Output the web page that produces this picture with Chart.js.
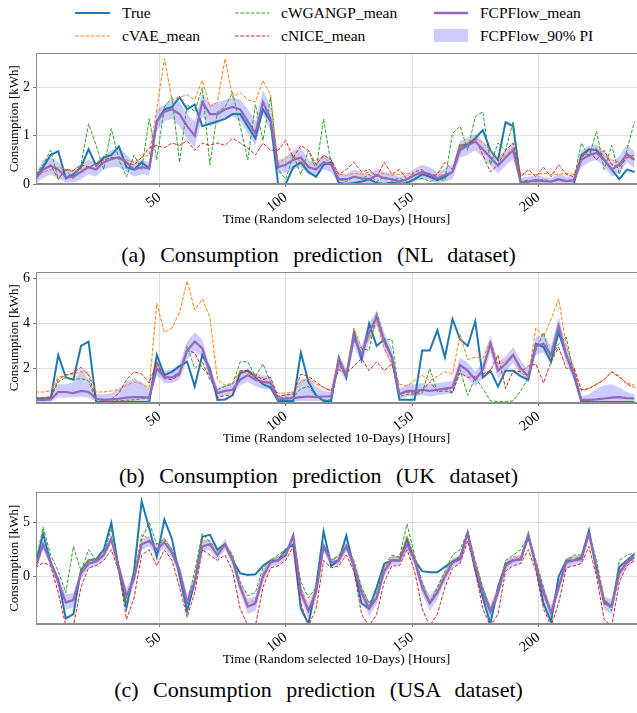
<!DOCTYPE html>
<html>
<head>
<meta charset="utf-8">
<script src="https://cdn.jsdelivr.net/npm/chart.js@4.4.1/dist/chart.umd.min.js"></script>
<style>
  body { margin: 0; width: 637px; height: 713px; overflow: hidden; background: #fff; position: relative;
         font-family: "Liberation Serif", "Times New Roman", serif; color: #000; }
  .panel { position: absolute; left: 0; }
  .cap { position: absolute; left: 0; width: 637px; text-align: center; font-size: 22px; line-height: 22px; word-spacing: 9px; }
  .leg { position: absolute; height: 18px; display: flex; align-items: center; font-size: 15.5px; white-space: nowrap; }
  .leg svg { flex: none; margin-right: 12px; }
</style>
</head>
<body>

<!-- legend (3 columns x 2 rows) -->
<div class="leg" style="left:75px;top:4px"><svg width="35" height="18"><line x1="0" y1="9" x2="35" y2="9" stroke="#1f77b4" stroke-width="2"/></svg><span>True</span></div>
<div class="leg" style="left:75px;top:27px"><svg width="35" height="18"><line x1="0" y1="9" x2="35" y2="9" stroke="#ff7f0e" stroke-width="1" stroke-dasharray="3.7 1.6"/></svg><span>cVAE_mean</span></div>
<div class="leg" style="left:235px;top:4px"><svg width="34" height="18"><line x1="0" y1="9" x2="34" y2="9" stroke="#2ca02c" stroke-width="1" stroke-dasharray="3.7 1.6"/></svg><span>cWGANGP_mean</span></div>
<div class="leg" style="left:235px;top:27px"><svg width="34" height="18"><line x1="0" y1="9" x2="34" y2="9" stroke="#d62728" stroke-width="1" stroke-dasharray="3.7 1.6"/></svg><span>cNICE_mean</span></div>
<div class="leg" style="left:434px;top:4px"><svg width="34" height="18"><line x1="0" y1="9" x2="34" y2="9" stroke="#9467bd" stroke-width="2.5"/></svg><span>FCPFlow_mean</span></div>
<div class="leg" style="left:434px;top:27px"><svg width="34" height="18"><rect x="0" y="2" width="34" height="13" fill="rgba(0,0,255,0.2)"/></svg><span>FCPFlow_90% PI</span></div>

<div class="panel" style="top:42px"><canvas id="nlChart" width="637" height="190"></canvas></div>
<div class="cap" style="top:244px">(a) Consumption prediction (NL dataset)</div>

<div class="panel" style="top:261px"><canvas id="ukChart" width="637" height="190"></canvas></div>
<div class="cap" style="top:465px">(b) Consumption prediction (UK dataset)</div>

<div class="panel" style="top:481px"><canvas id="usChart" width="637" height="191"></canvas></div>
<div class="cap" style="top:679px">(c) Consumption prediction (USA dataset)</div>

<script>
// === hours (one sample every 3 h) ===
const hours = [
  1, 4, 7, 10, 13, 16, 19, 22, 25, 28,
  31, 34, 37, 40, 43, 46, 49, 52, 55, 58,
  61, 64, 67, 70, 73, 76, 79, 82, 85, 88,
  91, 94, 97, 100, 103, 106, 109, 112, 115, 118,
  121, 124, 127, 130, 133, 136, 139, 142, 145, 148,
  151, 154, 157, 160, 163, 166, 169, 172, 175, 178,
  181, 184, 187, 190, 193, 196, 199, 202, 205, 208,
  211, 214, 217, 220, 223, 226, 229, 232, 235, 238
];
const xTicks = [50, 100, 150, 200];

// === (a) NL dataset ===
const nlTrue = [
  0.12, 0.35, 0.6, 0.68, 0.12, 0.2, 0.35, 0.72, 0.38, 0.55,
  0.6, 0.78, 0.35, 0.3, 0.45, 0.32, 1.3, 1.55, 1.6, 1.8,
  1.55, 1.65, 1.2, 1.25, 1.3, 1.35, 1.45, 1.45, 1.2, 0.95,
  1.55, 1.3, 0, 0, 0.35, 0.45, 0.25, 0.15, 0.4, 0.45,
  0.02, 0, 0.02, 0.05, 0.1, 0.02, 0, 0.03, 0, 0.02,
  0.1, 0.2, 0.15, 0.08, 0.15, 0.25, 0.8, 0.82, 0.95, 1.12,
  0.7, 0.5, 1.28, 1.2, 0.02, 0, 0, 0, 0, 0,
  0, 0, 0.6, 0.72, 0.7, 0.5, 0.3, 0.1, 0.3, 0.25
];
const nlVae = [
  0.15, 0.25, 0.3, 0.35, 0.3, 0.25, 0.3, 0.35, 0.4, 0.45,
  0.5, 0.55, 0.5, 0.45, 0.55, 0.6, 1.55, 2.6, 1.75, 1.8,
  1.85, 1.75, 2.15, 1.6, 1.7, 2.6, 1.8, 1.9, 1.75, 1.7,
  2.15, 1.85, 0.4, 0.55, 0.6, 0.45, 0.38, 0.5, 0.55, 0.42,
  0.2, 0.18, 0.22, 0.2, 0.25, 0.2, 0.22, 0.18, 0.2, 0.22,
  0.2, 0.22, 0.2, 0.18, 0.2, 0.25, 0.8, 0.85, 0.95, 0.85,
  0.7, 0.52, 0.6, 0.75, 0.22, 0.2, 0.2, 0.22, 0.2, 0.2,
  0.22, 0.2, 0.55, 0.65, 0.75, 0.58, 0.5, 0.45, 0.55, 0.5
];
const nlWgan = [
  0.2, 0.4, 0.7, 0.1, 0.3, 0.1, 0.4, 1.25, 0.8, 0.3,
  1.15, 0.5, 0.15, 0.6, 0.3, 1.35, 0.5, 1.6, 1.8, 0.45,
  1.65, 1.5, 2.0, 0.4, 1.5, 1.6, 1.9, 1.2, 0.5, 1.65,
  0.9, 1.8, 0.3, 0.1, 0.6, 0.2, 0.7, 0.3, 1.35, 0.4,
  0.1, 0.05, 0.15, 0.1, 0.2, 0.05, 0.15, 0.08, 0.12, 0.05,
  0.1, 0.12, 0.05, 0.1, 0.08, 1.05, 1.2, 0.7, 1.4, 1.5,
  0.4, 0.85, 0.7, 1.3, 0.05, 0.08, 0.05, 0.1, 0.05, 0.08,
  0.05, 0.08, 0.85, 0.55, 1.1, 0.3, 0.8, 0.2, 0.7, 1.3
];
const nlNice = [
  0.2, 0.3, 0.4, 0.1, 0.3, 0.28, 0.4, 0.35, 0.42, 0.5,
  0.55, 0.55, 0.45, 0.4, 0.55, 0.75, 0.8, 0.75, 0.85, 0.8,
  0.9, 0.7, 0.85, 0.8, 0.85, 0.8, 0.95, 0.85, 0.75, 0.6,
  0.85, 0.7, 0.7, 0.9, 0.55, 0.8, 0.7, 0.4, 0.6, 0.5,
  0.2, 0.3, 0.45, 0.25, 0.3, 0.15, 0.45, 0.2, 0.3, 0.1,
  0.25, 0.3, 0.15, 0.2, 0.45, 0.3, 0.75, 0.8, 0.95, 0.6,
  0.25, 0.4, 0.7, 0.85, 0.15, 0.3, 0.15, 0.35, 0.15, 0.4,
  0.2, 0.15, 0.55, 0.7, 0.5, 0.7, 0.4, 0.35, 0.55, 0.6
];
const nlFlow = [
  0.1, 0.3, 0.38, 0.3, 0.15, 0.15, 0.25, 0.35, 0.3, 0.45,
  0.52, 0.55, 0.45, 0.3, 0.35, 0.32, 1.3, 1.5, 1.55, 1.45,
  1.2, 1.0, 1.7, 1.45, 1.45, 1.55, 1.6, 1.55, 1.3, 1.05,
  1.7, 1.35, 0.35, 0.4, 0.5, 0.55, 0.35, 0.3, 0.45, 0.4,
  0.1, 0.1, 0.15, 0.12, 0.1, 0.18, 0.12, 0.1, 0.05, 0.1,
  0.18, 0.25, 0.2, 0.12, 0.18, 0.25, 0.7, 0.8, 0.88, 0.72,
  0.55, 0.38, 0.55, 0.7, 0.03, 0.05, 0.08, 0.06, 0.05, 0.1,
  0.06, 0.08, 0.5, 0.6, 0.65, 0.5, 0.3, 0.4, 0.62, 0.5
];
const nlLow = [
  0.02, 0.12, 0.2, 0.12, 0.03, 0.03, 0.1, 0.2, 0.15, 0.3,
  0.35, 0.35, 0.25, 0.15, 0.2, 0.18, 1.1, 1.3, 1.35, 1.2,
  0.95, 0.75, 1.4, 1.2, 1.25, 1.35, 1.4, 1.3, 1.05, 0.8,
  1.45, 1.1, 0.2, 0.25, 0.3, 0.35, 0.2, 0.15, 0.3, 0.25,
  0, 0, 0.02, 0, 0, 0.05, 0, 0, 0, 0,
  0.05, 0.1, 0.08, 0.02, 0.05, 0.1, 0.55, 0.6, 0.7, 0.55,
  0.38, 0.22, 0.38, 0.52, 0, 0, 0, 0, 0, 0,
  0, 0, 0.35, 0.45, 0.5, 0.35, 0.15, 0.22, 0.45, 0.32
];
const nlHigh = [
  0.2, 0.5, 0.55, 0.45, 0.3, 0.3, 0.4, 0.5, 0.45, 0.6,
  0.7, 0.75, 0.6, 0.45, 0.5, 0.45, 1.55, 1.65, 1.75, 1.7,
  1.45, 1.3, 1.9, 1.65, 1.7, 1.75, 1.8, 1.75, 1.55, 1.3,
  1.95, 1.6, 0.5, 0.55, 0.7, 0.75, 0.5, 0.45, 0.6, 0.55,
  0.22, 0.2, 0.3, 0.25, 0.22, 0.3, 0.25, 0.2, 0.15, 0.2,
  0.32, 0.4, 0.35, 0.25, 0.32, 0.4, 0.9, 0.95, 1.05, 0.9,
  0.7, 0.55, 0.72, 0.88, 0.12, 0.15, 0.18, 0.15, 0.12, 0.22,
  0.15, 0.16, 0.7, 0.8, 0.82, 0.68, 0.45, 0.58, 0.82, 0.68
];

// === (b) UK dataset ===
const ukTrue = [
  0.65, 0.65, 0.65, 2.6, 1.6, 1.5, 3.0, 3.2, 0.52, 0.5,
  0.5, 0.5, 0.5, 0.5, 0.5, 0.5, 2.6, 1.7, 1.85, 2.1,
  2.3, 1.2, 2.6, 2.0, 0.6, 0.62, 0.8, 1.8, 1.9, 1.6,
  1.3, 1.15, 0.55, 0.55, 0.55, 2.7, 1.4, 0.8, 0.55, 0.55,
  2.5, 1.6, 3.6, 2.4, 4.0, 3.0, 3.3, 2.5, 0.6, 0.6,
  0.6, 2.8, 2.8, 3.7, 2.5, 4.2, 3.3, 3.0, 4.1, 1.6,
  1.9, 1.2, 1.9, 1.9, 1.65, 1.5, 3.1, 2.95, 2.3, 3.6,
  2.6, 1.7, 0.5, 0.5, 0.5, 0.5, 0.5, 0.5, 0.5, 0.5
];
const ukVae = [
  0.95, 0.95, 1.0, 1.6, 1.7, 1.75, 1.85, 1.8, 0.95, 0.95,
  1.0, 1.05, 1.25, 1.4, 1.3, 1.15, 4.9, 3.6, 3.8, 4.5,
  5.9, 4.6, 5.1, 4.3, 1.5, 1.25, 1.35, 1.9, 1.8, 1.6,
  1.6, 1.25, 0.9, 0.9, 0.95, 1.4, 1.55, 1.3, 1.15, 1.0,
  2.5, 1.8, 3.8, 2.9, 3.3, 4.1, 2.9, 2.2, 1.3, 1.22,
  1.45, 1.7, 1.45, 1.65, 1.85, 1.75, 3.5, 2.4, 2.5, 2.45,
  3.25, 2.2, 2.3, 2.65, 1.8, 1.65, 3.8, 3.4, 4.2, 5.1,
  3.0, 2.0, 1.0, 1.1, 1.3, 1.5, 1.85, 1.6, 1.35, 1.25
];
const ukWgan = [
  0.65, 0.65, 0.68, 1.4, 1.6, 1.5, 1.55, 1.45, 0.55, 0.55,
  0.55, 0.56, 0.58, 0.6, 0.65, 0.68, 2.2, 1.6, 1.6, 1.7,
  3.0, 2.0, 2.3, 1.5, 1.05, 1.2, 1.3, 2.3, 2.3, 1.65,
  2.2, 1.4, 0.7, 0.7, 0.72, 1.1, 1.2, 0.75, 0.6, 0.6,
  2.2, 1.6, 3.2, 2.9, 2.8, 4.5, 3.3, 3.3, 0.75, 0.85,
  0.85, 0.9, 2.0, 0.95, 1.0, 0.9, 1.95, 0.8, 1.6, 1.1,
  0.55, 0.53, 0.53, 0.55, 1.0, 1.6, 2.8, 3.6, 2.4, 3.1,
  3.4, 1.7, 0.53, 0.52, 0.52, 0.53, 0.52, 0.52, 0.53, 0.52
];
const ukNice = [
  0.68, 0.7, 0.72, 1.5, 1.7, 1.8, 2.05, 1.7, 0.65, 0.62,
  0.62, 0.9, 1.5, 1.85, 1.75, 1.35, 2.3, 1.55, 1.5, 1.7,
  2.8, 2.7, 2.0, 1.7, 0.7, 0.8, 0.8, 1.9, 1.9, 1.7,
  1.5, 1.6, 0.75, 0.82, 0.85, 1.75, 1.65, 1.4, 1.15, 1.0,
  1.95, 1.8, 2.1, 2.45, 1.9, 2.3, 1.9, 2.2, 0.85, 0.95,
  0.9, 1.0, 1.4, 1.0, 1.1, 0.95, 1.8, 1.6, 1.65, 1.75,
  1.9, 2.6, 1.1, 1.9, 1.85, 2.1, 2.2, 1.35, 2.3, 2.95,
  2.0, 2.05, 1.05, 1.1, 1.3, 1.5, 1.85, 1.65, 1.3, 1.15
];
const ukFlow = [
  0.6, 0.6, 0.62, 0.95, 0.95, 0.9, 1.0, 0.95, 0.65, 0.6,
  0.62, 0.65, 0.7, 0.72, 0.72, 0.7, 2.0, 1.6, 1.6, 1.8,
  2.8, 3.2, 2.9, 1.8, 0.9, 1.0, 1.05, 1.5, 1.7, 1.5,
  1.4, 1.35, 0.62, 0.65, 0.68, 0.72, 0.75, 0.72, 0.75, 0.75,
  2.3, 1.7, 3.4, 2.6, 3.6, 4.3, 3.2, 2.5, 0.85, 1.0,
  1.0, 1.05, 1.0, 1.05, 1.1, 1.15, 2.15, 1.9, 1.5, 1.95,
  3.1, 1.9, 2.2, 2.6, 2.0, 1.65, 3.0, 3.1, 2.6, 3.9,
  2.6, 1.8, 0.6, 0.6, 0.62, 0.66, 0.7, 0.72, 0.68, 0.66
];
const ukLow = [
  0.5, 0.5, 0.52, 0.7, 0.7, 0.7, 0.75, 0.72, 0.5, 0.5,
  0.5, 0.5, 0.52, 0.55, 0.55, 0.52, 1.7, 1.35, 1.35, 1.5,
  2.4, 2.8, 2.5, 1.5, 0.7, 0.8, 0.85, 1.25, 1.4, 1.2,
  1.1, 1.05, 0.5, 0.5, 0.52, 0.55, 0.55, 0.55, 0.55, 0.55,
  2.0, 1.4, 3.0, 2.2, 3.2, 3.9, 2.8, 2.1, 0.65, 0.75,
  0.75, 0.8, 0.75, 0.8, 0.85, 0.9, 1.8, 1.55, 1.2, 1.6,
  2.7, 1.55, 1.85, 2.25, 1.7, 1.35, 2.6, 2.7, 2.2, 3.5,
  2.2, 1.5, 0.5, 0.5, 0.5, 0.52, 0.55, 0.55, 0.52, 0.5
];
const ukHigh = [
  0.75, 0.75, 0.78, 1.3, 1.3, 1.4, 2.0, 1.5, 0.85, 0.85,
  0.9, 1.1, 1.4, 1.55, 1.4, 1.1, 2.4, 1.9, 1.95, 2.2,
  3.2, 3.6, 3.3, 2.1, 1.15, 1.25, 1.35, 1.85, 2.0, 1.8,
  1.7, 1.65, 0.8, 0.85, 1.0, 1.5, 1.6, 1.2, 1.0, 0.95,
  2.6, 2.0, 3.8, 3.0, 4.0, 4.6, 3.6, 2.9, 1.1, 1.3,
  1.3, 1.35, 1.3, 1.35, 1.4, 1.45, 2.5, 2.25, 1.85, 2.3,
  3.5, 2.25, 2.55, 2.95, 2.35, 1.95, 3.4, 3.5, 3.0, 4.3,
  3.0, 2.1, 0.75, 0.85, 1.1, 1.25, 1.3, 1.15, 0.95, 0.85
];

// === (c) USA dataset ===
const usTrue = [
  1.0, 4.0, 1.3, -0.3, -3.9, -3.5, 0.6, 1.5, 1.6, 2.5,
  5.0, 0.6, -2.9, 0.5, 7.0, 4.5, 1.8, 5.3, 3.5, 0.0,
  -3.2, -0.5, 3.7, 3.9, 2.5, 3.0, 1.5, 0.3, 0.15, 0.2,
  1.0, 1.5, 1.5, 2.5, 3.0, -3.0, -4.4, -1.0, 4.2, 1.0,
  1.5, 3.8, 0.8, -2.5, -3.0, -1.0, 1.2, 1.5, 1.5, 3.5,
  1.5, 0.5, 0.4, 0.4, 0.9, 1.4, 1.8, 4.1, 0.6, -2.0,
  -4.4, -1.0, 1.2, 1.5, 1.6, 3.7, 1.0, -2.5, -4.2, 0.0,
  1.5, 1.5, 1.8, 4.3, 0.6, -2.3, -2.8, 0.9, 1.5, 2.1
];
const usVae = [
  1.0, 2.8, 1.5, -0.5, -2.5, -2.0, 0.5, 1.5, 1.6, 2.2,
  3.5, 1.0, -1.8, 0.0, 3.9, 3.5, 2.5, 3.5, 2.5, 0.5,
  -2.5, -0.3, 3.5, 3.0, 2.3, 3.0, 1.8, -0.8, -2.5, -2.2,
  0.3, 1.5, 1.8, 2.2, 3.8, -1.0, -3.0, -1.2, 3.0, 1.5,
  1.8, 3.0, 1.2, -1.2, -2.8, -1.8, 0.8, 1.8, 1.8, 3.8,
  1.8, -0.8, -2.3, -1.2, 0.3, 1.5, 1.8, 3.8, 1.2, -1.2,
  -3.0, -1.2, 1.2, 1.8, 1.8, 4.0, 1.2, -1.2, -3.2, -0.8,
  1.5, 1.8, 1.8, 4.0, 1.0, -2.2, -2.6, 0.5, 1.5, 2.0
];
const usWgan = [
  1.2, 4.6, 2.0, 0.5, -1.5, 2.8, 0.5, 2.5, 1.5, 2.0,
  4.5, 1.0, -2.5, 0.0, 3.5, 5.0, 3.0, 3.5, 2.5, 0.8,
  -2.5, 0.5, 4.0, 3.2, 2.5, 3.0, 2.0, -0.5, -1.8, -1.5,
  0.8, 1.5, 2.0, 2.5, 3.5, -0.5, -2.0, -1.0, 3.0, 1.5,
  2.0, 2.8, 1.5, -1.0, -2.5, -1.5, 1.0, 2.0, 1.8, 4.9,
  2.0, -0.5, -2.5, -1.0, 0.5, 2.0, 2.5, 4.2, 1.5, -1.0,
  -3.0, -1.5, 1.5, 2.0, 2.5, 3.8, 1.5, -1.0, -3.5, -1.0,
  1.5, 2.0, 2.0, 4.0, 1.5, -2.0, -3.2, 1.5, 2.0, 2.2
];
const usNice = [
  0.8, 1.3, 1.0, -1.5, -4.6, -4.6, -1.0, 0.8, 1.0, 1.5,
  2.5, 0.5, -4.0, -2.0, 2.0, 2.5, 1.0, 2.5, 1.5, -1.0,
  -3.8, -1.5, 2.5, 2.0, 1.5, 2.0, 0.5, -3.0, -4.6, -4.6,
  -1.0, 0.8, 1.0, 1.5, 2.8, -2.5, -4.6, -3.0, 1.5, 0.8,
  1.0, 2.0, 0.5, -3.5, -4.6, -3.5, -0.5, 1.0, 1.0, 2.5,
  0.5, -3.0, -4.6, -3.5, -1.0, 0.8, 1.2, 3.3, 0.5, -3.0,
  -4.6, -3.5, 0.5, 1.0, 1.2, 2.5, 0.5, -3.0, -4.6, -2.5,
  0.8, 1.0, 1.2, 2.8, 0.0, -4.0, -4.6, -0.5, 1.0, 1.5
];
const usFlow = [
  0.8, 3.0, 1.3, -0.5, -2.4, -2.2, 0.3, 1.2, 1.4, 2.0,
  3.5, 0.8, -1.8, -0.2, 3.0, 3.3, 2.5, 3.2, 2.2, 0.5,
  -2.4, -0.5, 2.8, 3.0, 2.0, 3.0, 1.5, -1.0, -2.8, -2.5,
  0.0, 1.3, 1.5, 2.0, 3.8, -1.5, -3.2, -1.5, 2.8, 1.3,
  1.5, 2.8, 1.0, -1.5, -3.0, -2.0, 0.5, 1.5, 1.5, 3.0,
  1.5, -1.0, -2.5, -1.5, 0.0, 1.3, 1.6, 4.0, 1.0, -1.5,
  -3.3, -1.5, 1.0, 1.5, 1.6, 3.9, 1.0, -1.5, -3.4, -1.0,
  1.3, 1.5, 1.6, 4.0, 0.8, -2.5, -2.8, 0.3, 1.3, 1.8
];
const usLow = [
  0.4, 2.5, 0.9, -1.0, -3.1, -2.9, -0.2, 0.8, 1.0, 1.6,
  3.0, 0.3, -2.5, -0.8, 2.5, 2.8, 2.0, 2.7, 1.7, 0.0,
  -3.1, -1.1, 2.3, 2.5, 1.5, 2.5, 1.0, -1.6, -3.5, -3.2,
  -0.6, 0.9, 1.1, 1.6, 3.3, -2.1, -3.9, -2.1, 2.3, 0.9,
  1.1, 2.3, 0.5, -2.1, -3.7, -2.6, 0.0, 1.1, 1.1, 2.5,
  1.0, -1.6, -3.2, -2.1, -0.5, 0.9, 1.2, 3.5, 0.5, -2.1,
  -4.0, -2.1, 0.5, 1.1, 1.2, 3.4, 0.5, -2.1, -4.1, -1.6,
  0.8, 1.1, 1.2, 3.5, 0.3, -3.1, -3.5, -0.2, 0.9, 1.4
];
const usHigh = [
  1.2, 3.5, 1.7, 0.0, -1.7, -1.5, 0.8, 1.6, 1.8, 2.5,
  4.0, 1.3, -1.1, 0.4, 3.5, 3.8, 3.0, 3.7, 2.7, 1.0,
  -1.7, 0.1, 3.3, 3.5, 2.5, 3.5, 2.0, -0.4, -2.1, -1.8,
  0.6, 1.7, 1.9, 2.4, 4.3, -0.9, -2.5, -0.9, 3.3, 1.7,
  1.9, 3.3, 1.5, -0.9, -2.3, -1.4, 1.0, 1.9, 1.9, 3.5,
  2.0, -0.4, -1.8, -0.9, 0.5, 1.7, 2.0, 4.5, 1.5, -0.9,
  -2.6, -0.9, 1.5, 1.9, 2.0, 4.4, 1.5, -0.9, -2.7, -0.4,
  1.8, 1.9, 2.0, 4.5, 1.3, -1.9, -2.1, 0.8, 1.7, 2.2
];

const FONT = "'Liberation Serif', 'Times New Roman', serif";
Chart.defaults.font.family = FONT;
Chart.defaults.color = "#000";

// draw the full box round the plot area (matplotlib spines)
const framePlugin = {
  id: "frame",
  afterDatasetsDraw(chart) {
    const { ctx, chartArea: a } = chart;
    ctx.save();
    ctx.strokeStyle = "#8a8a8a";
    ctx.lineWidth = 1;
    ctx.strokeRect(Math.round(a.left) + 0.5, Math.round(a.top) + 0.5,
                   Math.round(a.right - a.left), Math.round(a.bottom - a.top) - 1);
    ctx.restore();
  }
};

function pts(arr) {
  return hours.map((h, i) => ({ x: h, y: arr[i] }));
}

function line(arr, color, width, dash, order) {
  return {
    data: pts(arr), borderColor: color, borderWidth: width, borderDash: dash,
    pointRadius: 0, tension: 0, fill: false, order: order
  };
}

function buildPanel(id, s, yMin, yMax, yTicks) {
  return new Chart(document.getElementById(id), {
    type: "line",
    data: {
      datasets: [
        { data: pts(s.low), borderColor: "rgba(0,0,0,0)", borderWidth: 1, pointRadius: 0, fill: false, order: 20 },
        { data: pts(s.high), borderColor: "rgba(0,0,0,0)", borderWidth: 1, pointRadius: 0,
          fill: "-1", backgroundColor: "rgba(0,0,255,0.2)", order: 19 },
        line(s.truth, "#1f77b4", 2, [], 6),
        line(s.vae, "#ff7f0e", 1, [3.7, 1.6], 5),
        line(s.wgan, "#2ca02c", 1, [3.7, 1.6], 4),
        line(s.nice, "#d62728", 1, [3.7, 1.6], 3),
        line(s.flow, "#9467bd", 2.2, [], 1)
      ]
    },
    options: {
      responsive: false,
      animation: false,
      events: [],
      layout: { padding: { top: 10, right: 0, left: 0, bottom: 0 } },
      plugins: { legend: { display: false }, tooltip: { enabled: false } },
      scales: {
        x: {
          type: "linear", min: 1.2, max: 239,
          afterBuildTicks: sc => { sc.ticks = xTicks.map(v => ({ value: v })); },
          afterFit: sc => { sc.height = 48; },
          grid: { color: "#e0e0e0", tickColor: "#777", tickLength: 3 },
          border: { color: "#8a8a8a" },
          ticks: { font: { size: 14.5 }, color: "#000", minRotation: 38, maxRotation: 38, padding: 2 },
          title: { display: true, text: "Time (Random selected 10-Days) [Hours]", font: { size: 13.5 },
                   color: "#000", padding: { top: 0, bottom: 4 } }
        },
        y: {
          min: yMin, max: yMax,
          afterBuildTicks: sc => { sc.ticks = yTicks.map(v => ({ value: v })); },
          afterFit: sc => { sc.width = 36; },
          grid: { color: "#e0e0e0", tickColor: "#777", tickLength: 3 },
          border: { color: "#8a8a8a" },
          ticks: { font: { size: 14 }, color: "#000", padding: 3 },
          title: { display: true, text: "Consumption [kWh]", font: { size: 13 },
                   color: "#000", padding: { top: 7, bottom: 0 } }
        }
      }
    },
    plugins: [framePlugin]
  });
}

buildPanel("nlChart",
  { truth: nlTrue, vae: nlVae, wgan: nlWgan, nice: nlNice, flow: nlFlow, low: nlLow, high: nlHigh },
  0, 2.71, [0, 1, 2]);
buildPanel("ukChart",
  { truth: ukTrue, vae: ukVae, wgan: ukWgan, nice: ukNice, flow: ukFlow, low: ukLow, high: ukHigh },
  0.46, 6.28, [2, 4, 6]);
buildPanel("usChart",
  { truth: usTrue, vae: usVae, wgan: usWgan, nice: usNice, flow: usFlow, low: usLow, high: usHigh },
  -4.42, 7.83, [0, 5]);
</script>
</body>
</html>
